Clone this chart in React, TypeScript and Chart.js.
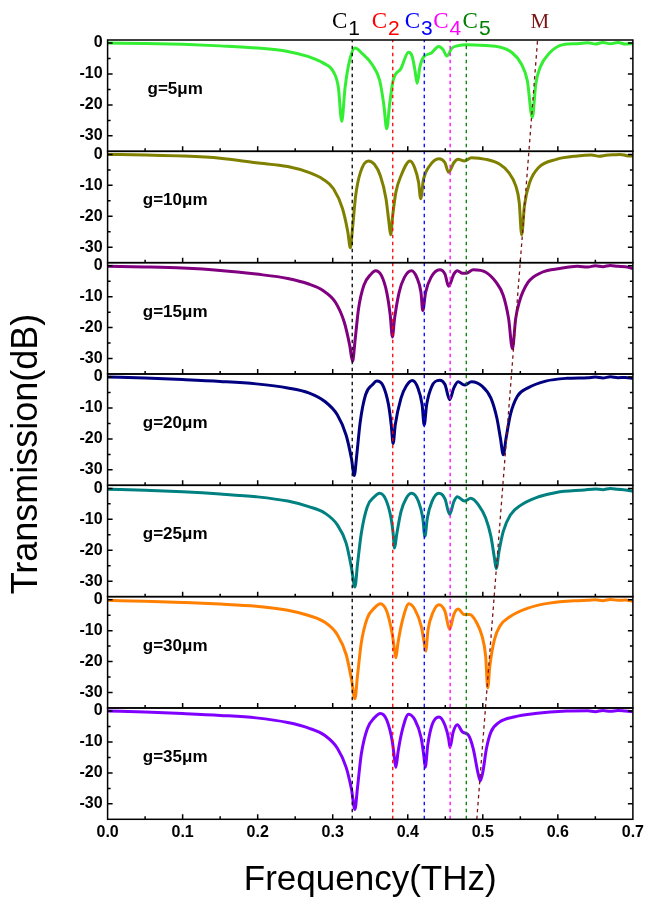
import React, { useEffect, useRef } from 'react';
import { Chart, registerables } from 'chart.js';

Chart.register(...registerables);

// ---------- data ----------
const panelLabels = ['g=5μm', 'g=10μm', 'g=15μm', 'g=20μm', 'g=25μm', 'g=30μm', 'g=35μm'];
const panelColors = ['#33ee33', '#808000', '#800080', '#000080', '#008080', '#ff8000', '#8000ff'];

const freq5 = [0, 0.05, 0.1, 0.15, 0.2, 0.24, 0.268, 0.287, 0.301, 0.3075, 0.312, 0.3165, 0.3226, 0.3296, 0.339, 0.353, 0.3626, 0.368, 0.372, 0.3758, 0.3805, 0.391, 0.401, 0.406, 0.4096, 0.4125, 0.4162, 0.4214, 0.431, 0.4412, 0.4473, 0.452, 0.459, 0.466, 0.478, 0.504, 0.5226, 0.539, 0.551, 0.5593, 0.566, 0.5706, 0.5767, 0.5885, 0.607, 0.626, 0.64, 0.65, 0.66, 0.67, 0.68, 0.69, 0.7];
const trans5 = [0, -0.1, -0.4, -0.9, -1.6, -2.7, -4.4, -6.4, -9.3, -14.3, -25.3, -14.3, -5.5, -1.6, -3.3, -7.1, -12.1, -19.8, -27.7, -19.8, -12.1, -8.2, -3.0, -4.4, -8.8, -13, -7.7, -4.4, -3.3, -1.1, -2.2, -4.2, -1.6, -0.9, -0.5, -0.8, -1.3, -3.1, -6.6, -12.1, -24, -13.2, -7.7, -3.3, -0.5, -0.2, 0.1, -0.3, 0.2, -0.2, 0.2, -0.3, -0.2];

const freq10 = [0, 0.05, 0.1, 0.15, 0.198, 0.24, 0.268, 0.287, 0.301, 0.313, 0.32, 0.3235, 0.3264, 0.3306, 0.3369, 0.3475, 0.3555, 0.3635, 0.371, 0.3748, 0.3772, 0.38, 0.3842, 0.391, 0.403, 0.409, 0.4144, 0.4172, 0.421, 0.4285, 0.4416, 0.4496, 0.4544, 0.4614, 0.467, 0.4755, 0.485, 0.504, 0.5226, 0.5344, 0.5438, 0.5485, 0.5518, 0.5555, 0.5626, 0.5744, 0.598, 0.626, 0.645, 0.655, 0.664, 0.675, 0.683, 0.692, 0.7];
const trans10 = [0, -0.2, -0.5, -1.2, -2.7, -3.9, -5.8, -8, -11.1, -17.5, -24.9, -30.2, -23.9, -13.3, -5.8, -2.1, -3.2, -6.9, -14.3, -21.7, -26, -19.6, -12.2, -6.9, -2.1, -4.2, -9, -14.3, -8, -3.9, -1.4, -2.7, -5.8, -2.7, -1.6, -2.1, -1.1, -1.6, -3.2, -5.8, -10.1, -15.4, -26, -16.5, -9, -4.2, -1.6, -0.5, -0.2, -0.6, -0.3, -0.1, 0, -0.4, -0.5];

const freq15 = [0, 0.05, 0.1, 0.15, 0.198, 0.24, 0.268, 0.287, 0.3036, 0.3153, 0.3226, 0.3264, 0.33, 0.3344, 0.3414, 0.351, 0.357, 0.365, 0.372, 0.3767, 0.3795, 0.3824, 0.3885, 0.3955, 0.405, 0.412, 0.4176, 0.42, 0.4238, 0.431, 0.4426, 0.4496, 0.4544, 0.4614, 0.4661, 0.473, 0.478, 0.4873, 0.504, 0.5179, 0.5273, 0.5344, 0.5395, 0.5438, 0.5485, 0.5602, 0.579, 0.6026, 0.626, 0.64, 0.65, 0.66, 0.67, 0.68, 0.69, 0.7];
const trans15 = [-0.2, -0.4, -0.75, -1.5, -2.7, -4.1, -5.9, -8, -11.8, -18.2, -25.7, -30.9, -23.6, -13.9, -6.4, -2.7, -1.6, -3.2, -8.6, -16.1, -23, -17.1, -8.6, -3.75, -1.6, -3.75, -8.6, -14.5, -8.6, -3.75, -1.3, -2.7, -6.6, -2.7, -1.6, -2.4, -2.4, -1.3, -2.1, -5.4, -9.6, -17.1, -26.8, -17.1, -11.8, -5.4, -2.1, -0.9, -0.2, -0.4, 0, -0.3, 0.1, -0.2, -0.3, -0.9];

const freq20 = [0, 0.05, 0.1, 0.15, 0.198, 0.24, 0.268, 0.2896, 0.3061, 0.3179, 0.325, 0.3287, 0.332, 0.3367, 0.3438, 0.3532, 0.3588, 0.3673, 0.3743, 0.378, 0.3805, 0.3833, 0.391, 0.398, 0.406, 0.4135, 0.4191, 0.4219, 0.4252, 0.4322, 0.4426, 0.4496, 0.4558, 0.4614, 0.467, 0.4755, 0.485, 0.499, 0.5108, 0.5188, 0.5235, 0.5273, 0.531, 0.5367, 0.5461, 0.5602, 0.5838, 0.612, 0.64, 0.65, 0.66, 0.67, 0.68, 0.69, 0.7];
const trans20 = [0, -0.3, -0.8, -1.4, -2.2, -3.5, -5.1, -7.9, -12.2, -18.8, -26.4, -31.8, -25.3, -14.4, -5.7, -2.4, -1.3, -2.9, -8.9, -15.5, -21.5, -15.5, -6.8, -2.9, -1.1, -3.5, -8.9, -15.5, -8.9, -2.9, -1, -2.4, -7.3, -3.5, -1.5, -2.6, -1.5, -2.9, -6.8, -13.3, -19.8, -25.1, -19.8, -12.2, -6.2, -3.5, -1.3, -0.4, -0.2, 0, -0.3, 0.1, -0.2, -0.1, -0.4];

const freq25 = [0, 0.05, 0.1, 0.15, 0.198, 0.24, 0.268, 0.2896, 0.3062, 0.3179, 0.325, 0.3296, 0.333, 0.3381, 0.3461, 0.3555, 0.3626, 0.371, 0.3777, 0.3805, 0.3824, 0.3852, 0.391, 0.398, 0.405, 0.4144, 0.42, 0.4228, 0.4261, 0.4322, 0.4416, 0.4496, 0.4558, 0.4614, 0.4661, 0.4755, 0.484, 0.4944, 0.5038, 0.5108, 0.5155, 0.5179, 0.5216, 0.5273, 0.5367, 0.5508, 0.5744, 0.598, 0.6355, 0.65, 0.66, 0.67, 0.68, 0.69, 0.7];
const trans25 = [-0.3, -0.6, -1.1, -1.8, -2.7, -4.1, -5.9, -8, -11.8, -17.7, -25.7, -31.9, -24.6, -14.5, -5.9, -2.7, -1.6, -3.75, -9.6, -14.5, -19.3, -15, -7.5, -3.2, -1.6, -4.3, -9.6, -15.5, -9.6, -4.3, -1.6, -3.4, -8.4, -4.3, -2.7, -4.1, -3.2, -5.4, -9.6, -15.5, -22.5, -25.9, -20.4, -13.9, -8.6, -5.4, -2.7, -1.3, -0.5, -0.2, -0.4, 0, -0.3, -0.5, -0.9];

const freq30 = [0, 0.05, 0.1, 0.15, 0.198, 0.24, 0.268, 0.2896, 0.3062, 0.3179, 0.325, 0.3296, 0.333, 0.3381, 0.3461, 0.3555, 0.3635, 0.372, 0.379, 0.3824, 0.3842, 0.387, 0.3932, 0.4016, 0.4096, 0.418, 0.4219, 0.4238, 0.4271, 0.4332, 0.4416, 0.4496, 0.4558, 0.4614, 0.467, 0.4755, 0.4826, 0.492, 0.499, 0.5038, 0.5066, 0.5094, 0.5155, 0.5226, 0.5367, 0.5602, 0.5885, 0.626, 0.64, 0.65, 0.66, 0.67, 0.68, 0.69, 0.7];
const trans30 = [-0.2, -0.5, -0.9, -1.4, -2.1, -3.4, -5.1, -7.3, -11.3, -17.7, -25.7, -32, -24.6, -13.9, -5.9, -2.7, -1.3, -3.75, -10.7, -16.1, -18.8, -13.9, -6.4, -1.3, -3.2, -8.6, -13.9, -16.6, -9.6, -4.3, -1.6, -3.75, -9.6, -4.8, -3, -4.8, -4.8, -7.5, -11.8, -18.2, -28.5, -21.4, -12.9, -8.6, -5.4, -2.7, -1.1, -0.3, -0.2, 0, -0.3, 0.1, -0.2, -0.1, -0.5];

const freq35 = [0, 0.05, 0.1, 0.15, 0.198, 0.24, 0.268, 0.2896, 0.3062, 0.3179, 0.325, 0.3296, 0.333, 0.3381, 0.3461, 0.3555, 0.3635, 0.372, 0.3795, 0.3824, 0.3842, 0.387, 0.3932, 0.4012, 0.4096, 0.4176, 0.4214, 0.4233, 0.4266, 0.4322, 0.4416, 0.4496, 0.4545, 0.4562, 0.4605, 0.4661, 0.473, 0.4802, 0.4873, 0.4934, 0.4967, 0.5, 0.5048, 0.5108, 0.5226, 0.5414, 0.5696, 0.612, 0.64, 0.65, 0.66, 0.67, 0.68, 0.69, 0.7];
const trans35 = [0, -0.3, -0.8, -1.4, -2.2, -3.7, -5.5, -7.9, -12, -18.2, -25.3, -31.8, -24.8, -13.9, -5.7, -2.2, -0.8, -2.9, -10, -15.5, -18.2, -13.3, -5.7, -1, -2.9, -8.4, -14.4, -18.2, -11.1, -4.6, -1.9, -4.6, -9, -11.7, -6.8, -4.4, -6.8, -7.6, -12.2, -19.8, -22.6, -19.8, -12.2, -6.8, -3.5, -1.9, -0.8, 0, 0.1, -0.2, 0.2, -0.1, 0.2, 0, -0.2];

const panelFreqs = [freq5, freq10, freq15, freq20, freq25, freq30, freq35];
const panelTrans = [trans5, trans10, trans15, trans20, trans25, trans30, trans35];

// resonance marker lines (THz)
const modeNames = ['1', '2', '3', '4', '5'];
const modeFreqs = [0.326, 0.380, 0.422, 0.4565, 0.478];
const modeColors = ['#000000', '#ff0000', '#0000ff', '#ff00ff', '#008000'];
const modeLabelFreqs = [0.299, 0.352, 0.396, 0.434, 0.473];
const mLineFreqs = [0.492, 0.573]; // bottom, top
const mColor = '#7a1414';
const mLabelFreq = 0.576;

// axes
const Y_MIN = -35;
const Y_MAX = 1;
const yMajorTicks = [0, -10, -20, -30];
const yMinorTicks = [-5, -15, -25];
const xMajorTicks = [0.1, 0.2, 0.3, 0.4, 0.5, 0.6];
const xMinorTicks = [0.05, 0.15, 0.25, 0.35, 0.45, 0.55, 0.65];
const labelFreq = 0.09;
const labelDb = -15;

const SANS = '"Liberation Sans", Arial, sans-serif';
const SERIF = '"Liberation Serif", "Times New Roman", serif';

const panelIds = panelLabels.map((_, i) => 'y' + i);

const decorPlugin = {
  id: 'decor',
  afterDatasetsDraw(chart: any) {
    const ctx = chart.ctx;
    const xs = chart.scales.x;
    ctx.save();
    ctx.strokeStyle = '#000';
    ctx.lineWidth = 1.5;
    panelIds.forEach((id) => {
      const ys = chart.scales[id];
      ctx.strokeRect(xs.left, ys.top, xs.right - xs.left, ys.bottom - ys.top);
      ctx.beginPath();
      const yt = (v: number, len: number) => {
        const p = ys.getPixelForValue(v);
        ctx.moveTo(xs.left, p);
        ctx.lineTo(xs.left + len, p);
        ctx.moveTo(xs.right, p);
        ctx.lineTo(xs.right - len, p);
      };
      yMajorTicks.forEach((v) => yt(v, 5));
      yMinorTicks.forEach((v) => yt(v, 3));
      const xt = (v: number, len: number) => {
        const p = xs.getPixelForValue(v);
        ctx.moveTo(p, ys.bottom);
        ctx.lineTo(p, ys.bottom - len);
      };
      xMajorTicks.forEach((v) => xt(v, 5));
      xMinorTicks.forEach((v) => xt(v, 3));
      ctx.stroke();
    });
    ctx.restore();
  },
  afterDraw(chart: any) {
    const ctx = chart.ctx;
    const xs = chart.scales.x;
    ctx.save();
    // panel labels
    ctx.fillStyle = '#000';
    ctx.font = `bold 17px ${SANS}`;
    ctx.textAlign = 'center';
    ctx.textBaseline = 'middle';
    panelIds.forEach((id, i) => {
      const ys = chart.scales[id];
      ctx.fillText(panelLabels[i], xs.getPixelForValue(labelFreq), ys.getPixelForValue(labelDb));
    });
    // mode labels
    const top = chart.chartArea.top;
    ctx.textAlign = 'left';
    ctx.textBaseline = 'alphabetic';
    modeNames.forEach((n, i) => {
      const x0 = xs.getPixelForValue(modeLabelFreqs[i]);
      ctx.fillStyle = modeColors[i];
      ctx.font = `23px ${SERIF}`;
      ctx.fillText('C', x0, top - 12);
      const w = ctx.measureText('C').width;
      ctx.font = `21px ${SANS}`;
      ctx.fillText(n, x0 + w + 1, top - 5);
    });
    ctx.fillStyle = mColor;
    ctx.font = `21px ${SERIF}`;
    ctx.textAlign = 'center';
    ctx.fillText('M', xs.getPixelForValue(mLabelFreq), top - 12);
    // y title
    ctx.fillStyle = '#000';
    ctx.font = `36px ${SANS}`;
    ctx.textBaseline = 'middle';
    ctx.translate(27.5, 454);
    ctx.rotate(-Math.PI / 2);
    ctx.fillText('Transmission(dB)', 0, 0);
    ctx.restore();
  },
};

export default function App() {
  const ref = useRef<HTMLCanvasElement | null>(null);
  useEffect(() => {
    if (!ref.current) return;
    const datasets: any[] = [];
    modeFreqs.forEach((f, i) => {
      datasets.push({
        data: [{ x: f, y: 0 }, { x: f, y: 1 }],
        yAxisID: 'yAll',
        borderColor: modeColors[i],
        borderWidth: 1.3,
        borderDash: [3.5, 3.5],
        pointRadius: 0,
        order: -1,
      });
    });
    datasets.push({
      data: [{ x: mLineFreqs[0], y: 0 }, { x: mLineFreqs[1], y: 1 }],
      yAxisID: 'yAll',
      borderColor: mColor,
      borderWidth: 1.3,
      borderDash: [3.5, 3.5],
      pointRadius: 0,
      order: -1,
    });
    panelIds.forEach((id, k) => {
      datasets.push({
        data: panelFreqs[k].map((f, i) => ({ x: f, y: panelTrans[k][i] })),
        yAxisID: id,
        borderColor: panelColors[k],
        borderWidth: 3,
        pointRadius: 0,
        cubicInterpolationMode: 'monotone',
        order: 1,
      });
    });

    const scales: any = {
      x: {
        type: 'linear',
        position: 'bottom',
        weight: 0,
        min: 0,
        max: 0.7,
        grid: { display: false, drawTicks: false },
        border: { display: false },
        ticks: {
          stepSize: 0.1,
          autoSkip: false,
          maxRotation: 0,
          padding: 4,
          color: '#000',
          font: { family: SANS, size: 16, weight: 'bold' },
          callback: (v: any) => Number(v).toFixed(1),
        },
        title: {
          display: true,
          text: 'Frequency(THz)',
          color: '#000',
          font: { family: SANS, size: 35, lineHeight: 1 },
          padding: { top: 0, bottom: 2 },
        },
        afterFit: (s: any) => {
          s.height = 80.7;
        },
      },
      yAll: {
        type: 'linear',
        position: 'left',
        display: false,
        weight: 100,
        min: 0,
        max: 1,
      },
    };
    panelIds.forEach((id, k) => {
      scales[id] = {
        type: 'linear',
        position: 'left',
        stack: 'panels',
        stackWeight: 1,
        weight: panelIds.length - k,
        min: Y_MIN,
        max: Y_MAX,
        grid: { display: false, drawTicks: false },
        border: { display: false },
        ticks: {
          stepSize: 10,
          includeBounds: false,
          autoSkip: false,
          padding: 5,
          color: '#000',
          font: { family: SANS, size: 16, weight: 'bold' },
        },
        afterFit: (s: any) => {
          s.width = 107.6;
        },
      };
    });

    const chart = new Chart(ref.current, {
      type: 'line',
      data: { datasets },
      options: {
        responsive: false,
        animation: false,
        devicePixelRatio: 1,
        events: [],
        parsing: false as any,
        layout: { padding: { left: 0, right: 12.6, top: 40, bottom: 0 } },
        plugins: { legend: { display: false }, tooltip: { enabled: false } },
        scales,
      } as any,
      plugins: [decorPlugin],
    });
    return () => chart.destroy();
  }, []);

  return (
    <div style={{ position: 'absolute', left: 0, top: 0, width: 648, height: 900, background: '#fff' }}>
      <canvas ref={ref} width={648} height={900} />
    </div>
  );
}
